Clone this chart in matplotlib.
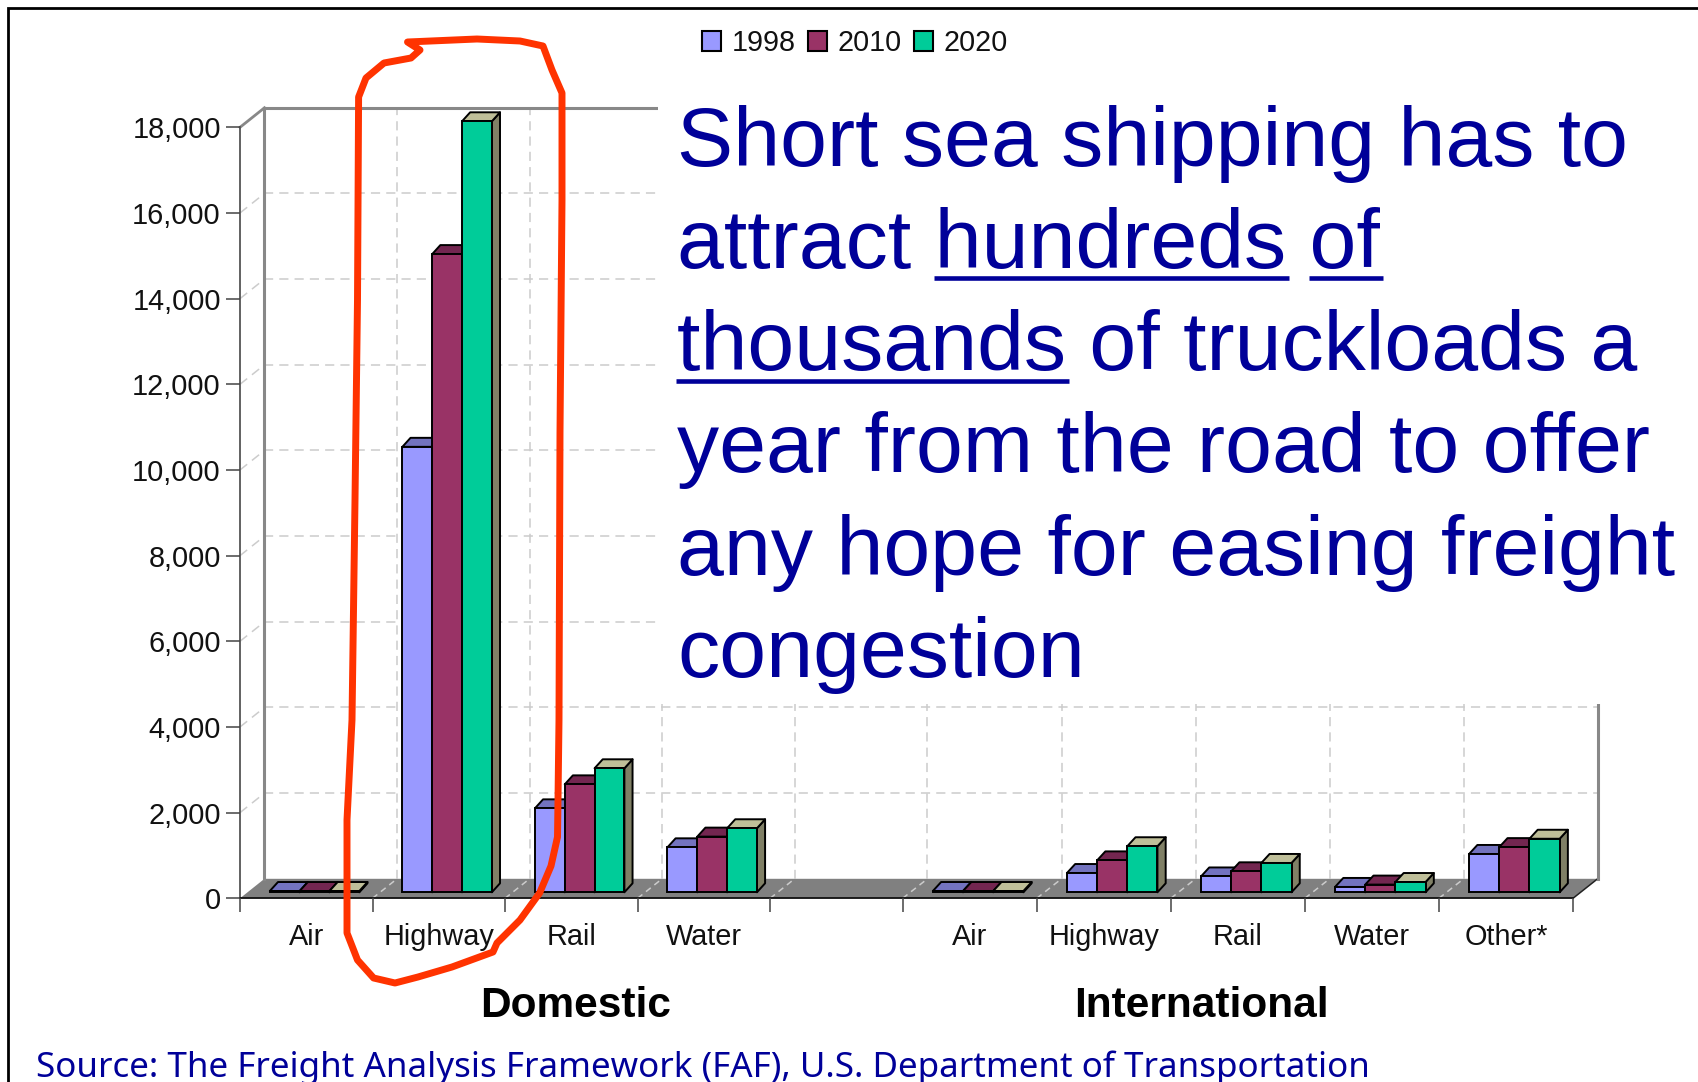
import numpy as np
import matplotlib
matplotlib.use("Agg")
import matplotlib.pyplot as plt
from matplotlib.lines import Line2D
from matplotlib.patches import Rectangle, Patch
from matplotlib.transforms import IdentityTransform

# ---------- data ----------
categories = ["Air", "Highway", "Rail", "Water", "", "Air", "Highway", "Rail", "Water", "Other*"]
years = ["1998", "2010", "2020"]
v1998 = [30, 10400, 1960, 1050, None, 30, 450, 370, 125, 895]
v2010 = [30, 14900, 2520, 1300, None, 30, 745, 490, 180, 1055]
v2020 = [30, 18000, 2895, 1495, None, 30, 1075, 685, 240, 1250]
yticks = list(range(0, 18001, 2000))
groups = ["Domestic", "International"]
headline = ["Short sea shipping has to",
            "attract hundreds of",
            "thousands of truckloads a",
            "year from the road to offer",
            "any hope for easing freight",
            "congestion"]
source = "Source: The Freight Analysis Framework (FAF), U.S. Department of Transportation"

front_colors = ["#9999FF", "#993366", "#00CC99"]
top_colors = ["#7373BF", "#732650", "#BFBF99"]
side_colors = ["#7373BF", "#732650", "#808066"]
BLUE = "#000099"
RED = "#FF3300"

W, H = 1698, 1082
plt.rcParams["font.family"] = ["Liberation Sans", "DejaVu Sans"]
fig = plt.figure(figsize=(W / 100, H / 100), dpi=100, facecolor="white")

# front plane of the 3-D box
L, R, T, B = 240.0, 1573.0, 127.3, 898.3
ax = fig.add_axes([L / W, 1 - B / H, (R - L) / W, (B - T) / H], facecolor="none")
knots_in = [-10, 0, 5, 10, 20]
mid = (902.7 - L) / (R - L) * 10
knots_out = [-10, 0, mid, 10, 20]
ax.set_xscale("function",
              functions=(lambda x: np.interp(x, knots_in, knots_out),
                         lambda x: np.interp(x, knots_out, knots_in)))
ax.set_xlim(0, 10)
ax.set_ylim(0, 18000)
ax.autoscale(False)

# scales for the fake depth
px_cat = (R - L) / 10
px_val = (B - T) / 18000
DX, DY = 24.6 / px_cat, 19.5 / px_val            # wall depth
BDX, BDY = 8.2 / px_cat, 9.0 / px_val            # bar depth
BASE = 6.0 / px_val                              # bars sit inside the floor
OFF, BW = 30.0 / px_cat, 30.0 / px_cat

GRID = dict(color="#CCCCCC", lw=1.1, dashes=(6, 4), clip_on=False)

# floor
ax.fill([0, 10, 10 + DX, DX], [0, 0, DY, DY], facecolor="#808080", edgecolor="none",
        clip_on=False, zorder=1)
ax.plot([10, 10 + DX], [0, DY], color="#222222", lw=1.1, clip_on=False, zorder=1.1)

# back wall grid and side wall grid
for v in yticks[1:-1]:
    ax.plot([DX, 10 + DX], [v + DY, v + DY], zorder=1.2, **GRID)
    ax.plot([0, DX], [v, v + DY], zorder=1.2, **GRID)
for k in range(1, 10):
    ax.plot([k + DX, k + DX], [DY, 18000 + DY], zorder=1.2, **GRID)
    ax.plot([k, k + DX], [0, DY], zorder=1.25, color="#CCCCCC", lw=1.1,
            dashes=(4, 3), clip_on=False)

# wall outlines
ax.plot([DX, DX], [DY, 18000 + DY], color="#888888", lw=2.2, clip_on=False, zorder=1.3)
ax.plot([DX, 10 + DX], [18000 + DY, 18000 + DY], color="#888888", lw=2.2, clip_on=False, zorder=1.3)
ax.plot([0, DX], [18000, 18000 + DY], color="#888888", lw=2.0, clip_on=False, zorder=1.3)
ax.plot([10 + DX, 10 + DX], [DY, 18000 + DY], color="#888888", lw=2.2, clip_on=False, zorder=1.3)

# the slide text box hides the upper right of the chart
ax.add_patch(Rectangle((657.5, H - 704), W, 704, transform=IdentityTransform(),
                       facecolor="white", edgecolor="none", zorder=1.5, clip_on=False))

# bars
z = 2.0
for i in range(10):
    for s, values in enumerate((v1998, v2010, v2020)):
        v = values[i]
        if v is None:
            continue
        x0 = i + OFF + s * BW
        x1 = x0 + BW
        y0, y1 = BASE, BASE + v
        ax.fill([x1, x1 + BDX, x1 + BDX, x1], [y0, y0 + BDY, y1 + BDY, y1],
                facecolor=side_colors[s], edgecolor="black", lw=1.4, zorder=z,
                clip_on=False, joinstyle="round")
        ax.fill([x0, x1, x1 + BDX, x0 + BDX], [y1, y1, y1 + BDY, y1 + BDY],
                facecolor=top_colors[s], edgecolor="black", lw=1.4, zorder=z + .01,
                clip_on=False, joinstyle="round")
        ax.bar(x0, v, BW, bottom=BASE, align="edge", color=front_colors[s],
               edgecolor="black", lw=1.4, zorder=z + .02, clip_on=False)
        z += 0.1

# axes
for sp in ("top", "right"):
    ax.spines[sp].set_visible(False)
ax.spines["left"].set_color("#555555")
ax.spines["left"].set_linewidth(1.3)
ax.spines["left"].set_zorder(1.4)
ax.spines["bottom"].set_color("#111111")
ax.spines["bottom"].set_linewidth(1.3)
ax.spines["bottom"].set_zorder(1.4)

ax.set_yticks(yticks)
ax.set_yticklabels([f"{v:,}" for v in yticks], fontsize=20.8, color="#111111")
ax.tick_params(axis="y", length=9.8, width=1.1, color="#444444", pad=4)
ax.set_xticks(np.arange(0, 11))
ax.set_xticklabels([])
ax.set_xticks(np.arange(10) + 0.5, labels=categories, minor=True, fontsize=20.8, color="#111111")
ax.tick_params(axis="x", which="major", length=9.8, width=1.1, color="#444444")
ax.tick_params(axis="x", which="minor", length=0, pad=18)

# group titles
for name, xc in zip(groups, (2.53, 7.23)):
    ax.annotate(name, xy=(xc, 0), xycoords=("data", "axes fraction"),
                xytext=(0, -118.4), textcoords="offset pixels", ha="center", va="baseline",
                fontsize=30.5, fontweight="bold", color="black", annotation_clip=False)

# legend
handles = [Patch(facecolor=c, edgecolor="black", lw=1.5) for c in front_colors]
fig.legend(handles, years, loc="center left", bbox_to_anchor=(702 / W, 1 - 43 / H), ncol=3,
           frameon=False, fontsize=20.7, handlelength=0.66, handleheight=0.66,
           handletextpad=0.38, columnspacing=0.42, borderpad=0, borderaxespad=0,
           labelcolor="#111111")

# headline
HL_X, HL_Y0, HL_STEP, HL_FS = 677.0, 165.7, 102.2, 60.7
renderer = fig.canvas.get_renderer()


def text_width(s):
    t = fig.text(0, 0, s, fontsize=HL_FS)
    w = t.get_window_extent(renderer).width
    t.remove()
    return w


for n, line in enumerate(headline):
    fig.text(HL_X / W, 1 - (HL_Y0 + n * HL_STEP) / H, line, fontsize=HL_FS, color=BLUE,
             ha="left", va="baseline")


def underline(line_no, prefix, word):
    x0 = HL_X + text_width(prefix + word[0]) - text_width(word[0]) - 1
    x1 = HL_X + text_width(prefix + word) + 3
    y = 1 - (HL_Y0 + line_no * HL_STEP + 10.5) / H
    fig.add_artist(Line2D([x0 / W, x1 / W], [y, y], color=BLUE, lw=3.3,
                          solid_capstyle="butt", transform=fig.transFigure))


underline(1, "attract ", "hundreds")
underline(1, "attract hundreds ", "of")
underline(2, "", "thousands")

# source line
fig.text(36 / W, 1 - 1076.7 / H, source, fontsize=25.2, color=BLUE, family="Noto Sans",
         fontweight="medium", ha="left", va="baseline")

# slide frame
frame_x = 7.5 / W
frame_y = 1 - 8.3 / H
fig.add_artist(Line2D([frame_x, frame_x, 1], [0, frame_y, frame_y], color="black", lw=2.0,
                      solid_joinstyle="miter", transform=fig.transFigure))

# hand-drawn red outline
outline = np.array([
    (407.5, 42), (477, 39), (520, 41), (543, 46), (552, 70), (562, 93), (562, 200), (560, 433),
    (559, 720), (558, 800), (557.5, 837), (551, 866), (539.6, 893), (520, 920), (497, 943), (493, 952),
    (452, 967), (418, 977), (395, 983), (373.6, 978), (357.5, 960), (347, 933),
    (347, 820), (352, 720), (355, 500), (357.5, 300), (358.6, 97), (366, 78), (384, 63), (411, 58),
    (420, 50), (409, 43)], dtype=float)
fig.add_artist(Line2D(outline[:, 0] / W, 1 - outline[:, 1] / H, color=RED, lw=5.0,
                      solid_joinstyle="round", solid_capstyle="round",
                      transform=fig.transFigure, zorder=6))

fig.savefig("out.png", dpi=100, facecolor="white")
